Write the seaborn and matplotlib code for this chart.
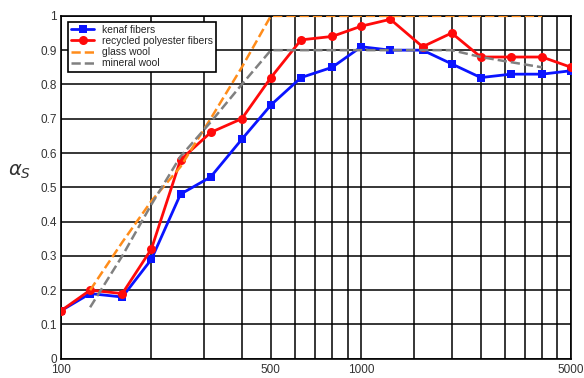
import numpy as np
import pandas as pd
import matplotlib
matplotlib.use("Agg")
import matplotlib.pyplot as plt
import seaborn as sns
from matplotlib.ticker import FixedLocator, NullFormatter

# third-octave band centre frequencies [Hz]
freq = [100, 125, 160, 200, 250, 315, 400, 500, 630, 800, 1000,
        1250, 1600, 2000, 2500, 3150, 4000, 5000]

kenaf = [0.14, 0.19, 0.18, 0.29, 0.48, 0.53, 0.64, 0.74, 0.82, 0.85, 0.91,
         0.90, 0.90, 0.86, 0.82, 0.83, 0.83, 0.84]
polyester = [0.14, 0.20, 0.19, 0.32, 0.58, 0.66, 0.70, 0.82, 0.93, 0.94, 0.97,
             0.99, 0.91, 0.95, 0.88, 0.88, 0.88, 0.85]

ref_freq = [125, 160, 200, 250, 315, 400, 500, 630, 800, 1000,
            1250, 1600, 2000, 2500, 3150, 4000]
glass_wool = [0.20, 0.34, 0.46, 0.56, 0.70, 0.85, 1.0, 1.0, 1.0, 1.0,
              1.0, 1.0, 1.0, 1.0, 1.0, 1.0]
mineral_wool = [0.15, 0.30, 0.45, 0.59, 0.69, 0.80, 0.90, 0.90, 0.90, 0.90,
                0.90, 0.90, 0.90, 0.88, 0.865, 0.85]

major_x = [100, 500, 1000, 5000]
minor_x = [200, 300, 400, 600, 700, 800, 900, 1500, 2000, 2500, 3000,
           3500, 4000, 4500]

sns.set_style("white")
plt.rcParams['font.family'] = ['Liberation Sans', 'DejaVu Sans']

fig = plt.figure(figsize=(5.84, 3.78), dpi=100)
ax = fig.add_axes([0.1045, 0.051, 0.8735, 0.907])

sns.lineplot(x=freq, y=kenaf, ax=ax, color='#0a14ff', marker='s', markersize=5.5,
             markeredgewidth=0, linewidth=2.0, label='kenaf fibers', zorder=3)
sns.lineplot(x=freq, y=polyester, ax=ax, color='#ff0a0a', marker='o', markersize=6.5,
             markeredgewidth=0, linewidth=2.0, label='recycled polyester fibers', zorder=4)
sns.lineplot(x=ref_freq, y=glass_wool, ax=ax, color='#ff8c1a', linestyle='--',
             linewidth=1.8, label='glass wool', zorder=5)
sns.lineplot(x=ref_freq, y=mineral_wool, ax=ax, color='#808080', linestyle='--',
             linewidth=1.8, label='mineral wool', zorder=6)

ax.set_xscale('log')
ax.set_xlim(100, 5000)
ax.set_ylim(0, 1)
ax.xaxis.set_major_locator(FixedLocator(major_x))
ax.xaxis.set_minor_locator(FixedLocator(minor_x))
ax.xaxis.set_minor_formatter(NullFormatter())
ax.set_xticklabels([str(v) for v in major_x])
yt = np.round(np.arange(0, 1.01, 0.1), 1)
ax.set_yticks(yt)
ax.set_yticklabels(['0' if v == 0 else '1' if v == 1 else f'{v:.1f}' for v in yt])

ax.grid(True, which='both', axis='x', color='black', linewidth=1.1)
ax.grid(True, which='major', axis='y', color='black', linewidth=1.1)
ax.set_axisbelow(True)
for s in ax.spines.values():
    s.set_color('black')
    s.set_linewidth(1.2)

ax.tick_params(axis='both', which='both', length=0, labelsize=8.5,
               labelcolor='#333333')
ax.tick_params(axis='x', pad=4)
ax.tick_params(axis='y', pad=3)
ax.set_xlabel('frequency [Hz]', fontsize=8.5, color='#333333', labelpad=2)
ax.set_ylabel(r'$\alpha_S$', fontsize=14, rotation=0, color='#333333',
              ha='center', va='center')
ax.yaxis.set_label_coords(-0.082, 0.545)

leg = ax.legend(loc='upper left', fontsize=7.4, frameon=True, fancybox=False,
                borderpad=0.3, labelspacing=0.12, handlelength=2.2,
                bbox_to_anchor=(0.004, 0.998))
leg.get_frame().set_edgecolor('black')
leg.get_frame().set_linewidth(1.2)
leg.get_frame().set_alpha(1)

fig.savefig('out.png', dpi=100)
